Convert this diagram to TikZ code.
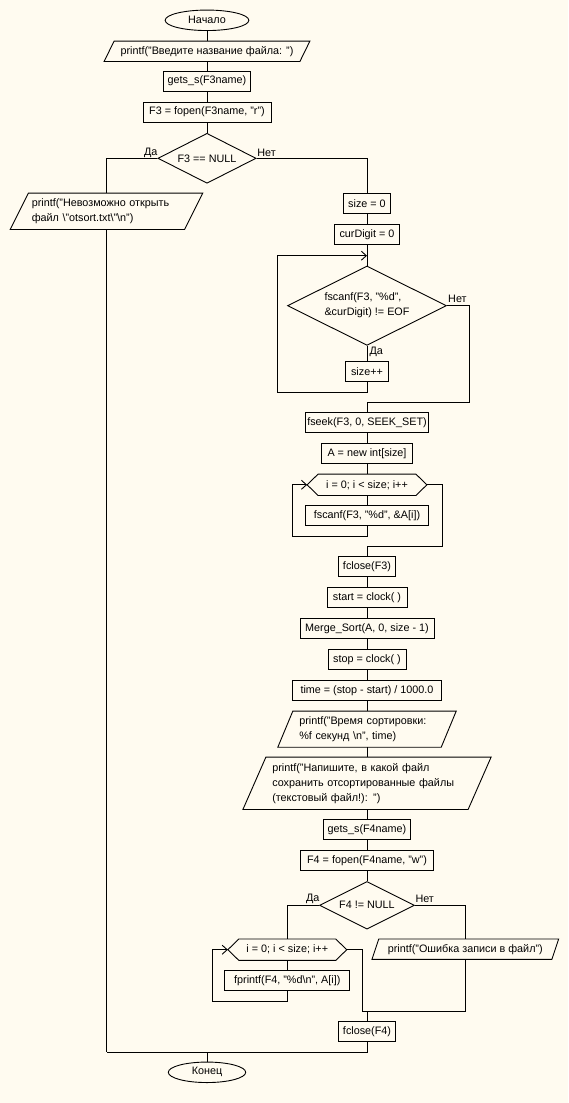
\documentclass[tikz,border=0pt]{standalone}
\usepackage{fontspec}
\setmainfont{Liberation Sans}
\usetikzlibrary{shapes.geometric,arrows.meta}
\definecolor{paper}{RGB}{255,251,240}

% outline of an input/output block around a (borderless) rectangle node
\newcommand\ioframe[2]{\draw[line] ([xshift=#2pt]#1.north west) -- ([xshift=#2pt]#1.north east)
  -- ([xshift=-#2pt]#1.south east) -- ([xshift=-#2pt]#1.south west) -- cycle;}
% outline of a loop header (pointed hexagon)
\newcommand\hexframe[2]{\draw[line] (#1.west) -- ([xshift=#2pt]#1.north west) -- ([xshift=-#2pt]#1.north east)
  -- (#1.east) -- ([xshift=-#2pt]#1.south east) -- ([xshift=#2pt]#1.south west) -- cycle;}

\begin{document}
\begin{tikzpicture}[x=1pt,y=-1pt,
  every node/.style={font=\fontsize{10.8}{15}\selectfont, inner sep=1pt},
  line/.style={line width=0.9pt, draw=black},
  loopback/.style={line, -{Straight Barb[length=5pt,width=9pt]}},
  box/.style={draw, line width=0.9pt, fill=paper, rectangle, minimum height=20pt},
  term/.style={draw, line width=0.9pt, fill=paper, ellipse, minimum height=20.5pt, inner sep=0pt},
  cond/.style={draw, line width=0.9pt, fill=paper, diamond, aspect=2, inner sep=0pt},
  io/.style={rectangle, minimum height=20pt},
  hexa/.style={rectangle, minimum height=21pt},
  lbl/.style={inner sep=0pt},
]
\fill[paper] (0,0) rectangle (568,1103);
\useasboundingbox (0,0) rectangle (568,1103);

% ---- blocks ----
\node[term, minimum width=83.7pt] (start) at (207,20.3) {Начало};
\node[io, minimum width=195.4pt] (p1) at (207,51.3) {printf("Введите название файла: ")};
\ioframe{p1}{5}
\node[box, minimum width=86.6pt] (gets1) at (207,81) {gets\_s(F3name)};
\node[box, minimum width=127.9pt] (fopen1) at (207,112) {F3 = fopen(F3name, "r")};
\node[cond, minimum width=98.2pt, minimum height=50pt] (d1) at (207,158.3) {F3 == NULL};

\node[io, minimum height=36pt, text width=149.4pt, inner xsep=12.3pt, align=left] (err1) at (106.5,211.3)
  {printf("Невозможно открыть\\файл \textbackslash"otsort.txt\textbackslash"\textbackslash n")};
\ioframe{err1}{9.1}

\node[box, minimum width=47.1pt] (size0) at (367,203.3) {size = 0};
\node[box, minimum width=64.8pt] (cur0) at (367,234.3) {curDigit = 0};
\node[cond, minimum width=159pt, minimum height=79.3pt, align=left] (d2) at (367,305.7)
  {fscanf(F3, "\%d",\\\&curDigit) != EOF};
\node[box, minimum width=43.1pt] (sizepp) at (367,371.3) {size++};
\node[box, minimum width=123pt] (fseek) at (367,422.3) {fseek(F3, 0, SEEK\_SET)};
\node[box, minimum width=90.7pt] (anew) at (367,453.3) {A = new int[size]};
\node[hexa, minimum width=119.4pt] (for1) at (367,484.8) {i = 0; i < size; i++};
\hexframe{for1}{11}
\node[box, minimum width=122.4pt] (fscA) at (367,515.7) {fscanf(F3, "\%d", \&A[i])};
\node[box, minimum width=57pt] (fclose3) at (367,566.3) {fclose(F3)};
\node[box, minimum width=80pt] (tstart) at (367,597.3) {start = clock( )};
\node[box, minimum width=134pt] (msort) at (367,628.3) {Merge\_Sort(A, 0, size - 1)};
\node[box, minimum width=78pt] (tstop) at (367,659.3) {stop = clock( )};
\node[box, minimum width=149pt] (tcalc) at (367,690.2) {time = (stop - start) / 1000.0};
\node[io, minimum height=35.7pt, text width=135.4pt, inner xsep=13.8pt, align=left] (p2) at (367,729.2)
  {printf("Время сортировки:\\\%f секунд \textbackslash n", time)};
\ioframe{p2}{7.5}
\node[io, minimum height=52pt, text width=189.4pt, inner xsep=17.7pt, align=left] (p3) at (367,783.3)
  {printf("Напишите, в какой файл\\сохранить отсортированные файлы\\(текстовый файл!): ")};
\ioframe{p3}{11.5}
\node[box, minimum width=86.6pt] (gets2) at (367,829.3) {gets\_s(F4name)};
\node[box, minimum width=132.4pt] (fopen2) at (367,860.3) {F4 = fopen(F4name, "w")};
\node[cond, minimum width=94.7pt, minimum height=47.7pt] (d3) at (367,905.3) {F4 != NULL};
\node[hexa, minimum width=118.5pt] (for2) at (287.3,949.7) {i = 0; i < size; i++};
\hexframe{for2}{11}
\node[box, minimum width=125pt] (fprn) at (287.3,980.3) {fprintf(F4, "\%d\textbackslash n", A[i])};
\node[io, minimum width=179.5pt] (p4) at (465.3,949.2) {printf("Ошибка записи в файл")};
\ioframe{p4}{3.4}
\node[box, minimum width=57pt] (fclose4) at (367,1031.3) {fclose(F4)};
\node[term, minimum width=77.4pt] (end) at (207,1072.3) {Конец};

% ---- branch labels ----
\node[lbl] (da1) at (150.7,152.7) {Да};
\node[lbl] (net1) at (266.6,152.7) {Нет};
\node[lbl] (net2) at (457.4,299) {Нет};
\node[lbl] (da2) at (376.3,352.3) {Да};
\node[lbl] (da3) at (312.7,899.3) {Да};
\node[lbl] (net3) at (424.7,899.3) {Нет};

% ---- connectors ----
\draw[line] (start.south) -- (p1.north);
\draw[line] (p1.south) -- (gets1.north);
\draw[line] (gets1.south) -- (fopen1.north);
\draw[line] (fopen1.south) -- (d1.north);
\draw[line] (d1.west) -| (err1.north);
\draw[line] (d1.east) -| (size0.north);
\draw[line] (size0.south) -- (cur0.north);
\draw[line] (cur0.south) -- (d2.north);
\draw[line] (d2.south) -- (sizepp.north);
\coordinate (l1a) at (277.5,392);
\coordinate (l1in) at (367,255.7);
\draw[loopback] (sizepp.south) |- (l1a) |- (l1in);
\coordinate (r1) at (469.5,402);
\draw[line] (d2.east) -| (r1) -| (fseek.north);
\draw[line] (fseek.south) -- (anew.north);
\draw[line] (anew.south) -- (for1.north);
\draw[line] (for1.south) -- (fscA.north);
\coordinate (l2a) at (292.3,536.3);
\draw[loopback] (fscA.south) |- (l2a) |- (for1.west);
\coordinate (r2) at (442.3,546);
\draw[line] (for1.east) -| (r2) -| (fclose3.north);
\draw[line] (fclose3.south) -- (tstart.north);
\draw[line] (tstart.south) -- (msort.north);
\draw[line] (msort.south) -- (tstop.north);
\draw[line] (tstop.south) -- (tcalc.north);
\draw[line] (tcalc.south) -- (p2.north);
\draw[line] (p2.south) -- (p3.north);
\draw[line] (p3.south) -- (gets2.north);
\draw[line] (gets2.south) -- (fopen2.north);
\draw[line] (fopen2.south) -- (d3.north);
\draw[line] (d3.west) -| (for2.north);
\draw[line] (d3.east) -| (p4.north);
\draw[line] (for2.south) -- (fprn.north);
\coordinate (l3a) at (212.3,1001.3);
\draw[loopback] (fprn.south) |- (l3a) |- (for2.west);
\coordinate (j2) at (362.3,1011.3);
\draw[line] (for2.east) -| (j2);
\draw[line] (p4.south) |- (j2);
\draw[line] (fclose4.north) -- (fclose4.north |- j2);
\coordinate (j3) at (106.5,1052.3);
\draw[line] (fclose4.south) |- (j3);
\draw[line] (err1.south) -- (j3);
\draw[line] (end.north) -- (end.north |- j3);
\end{tikzpicture}
\end{document}
